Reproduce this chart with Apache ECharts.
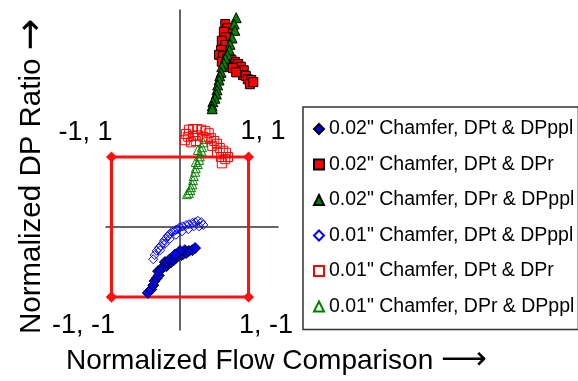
<!DOCTYPE html>
<html>
<head>
<meta charset="utf-8">
<script src="https://cdn.jsdelivr.net/npm/echarts@6/dist/echarts.min.js"></script>
<style>
  html, body { margin: 0; padding: 0; background: #fff; }
  #chart { width: 578px; height: 381px; }
</style>
</head>
<body>
<div id="chart"></div>
<script>
// Normalized flow comparison (x) vs normalized DP ratio (y), one array per test set
const seriesNames = [
  '0.02" Chamfer, DPt & DPppl',
  '0.02" Chamfer, DPt & DPr',
  '0.02" Chamfer, DPr & DPppl',
  '0.01" Chamfer, DPt & DPppl',
  '0.01" Chamfer, DPt & DPr',
  '0.01" Chamfer, DPr & DPppl'
];

const chamfer02TtoPpl = [
  [-0.47, -0.94], [-0.42, -0.89], [-0.39, -0.83], [-0.37, -0.77], [-0.34, -0.73],
  [-0.31, -0.69], [-0.32, -0.63], [-0.28, -0.61], [-0.25, -0.57], [-0.20, -0.56],
  [-0.22, -0.50], [-0.18, -0.51], [-0.13, -0.50], [-0.15, -0.46], [-0.09, -0.47],
  [-0.06, -0.44], [-0.03, -0.41], [0.02, -0.40], [0.04, -0.39], [0.09, -0.37],
  [0.07, -0.33], [0.13, -0.34], [0.18, -0.33], [0.22, -0.30], [0.00, -0.34],
  [-0.07, -0.39]
];

const chamfer02TtoR = [
  [0.66, 2.90], [0.69, 2.84], [0.64, 2.79], [0.67, 2.71], [0.61, 2.66],
  [0.66, 2.60], [0.60, 2.53], [0.57, 2.46], [0.63, 2.44], [0.69, 2.41],
  [0.61, 2.36], [0.67, 2.33], [0.75, 2.39], [0.80, 2.36], [0.85, 2.33],
  [0.89, 2.29], [0.88, 2.23], [0.93, 2.24], [0.92, 2.17], [0.96, 2.16],
  [0.99, 2.11], [1.04, 2.10], [1.02, 2.04], [1.07, 2.07], [0.72, 2.29],
  [0.77, 2.27], [0.82, 2.21]
];

const chamfer02RtoPpl = [
  [0.82, 2.99], [0.79, 2.90], [0.80, 2.81], [0.76, 2.70], [0.73, 2.61],
  [0.72, 2.53], [0.69, 2.46], [0.66, 2.41], [0.64, 2.34], [0.61, 2.29],
  [0.60, 2.21], [0.58, 2.16], [0.57, 2.10], [0.55, 2.03], [0.54, 1.96],
  [0.53, 1.90], [0.51, 1.84], [0.48, 1.79], [0.47, 1.73], [0.47, 1.69]
];

const chamfer01TtoPpl = [
  [-0.39, -0.46], [-0.37, -0.40], [-0.34, -0.34], [-0.31, -0.30], [-0.28, -0.27],
  [-0.25, -0.23], [-0.23, -0.19], [-0.20, -0.16], [-0.18, -0.13], [-0.15, -0.10],
  [-0.12, -0.07], [-0.09, -0.06], [-0.06, -0.04], [-0.03, -0.03], [0.00, 0.00],
  [0.04, 0.01], [0.09, 0.03], [0.13, 0.04], [0.18, 0.06], [0.22, 0.07],
  [0.26, 0.09], [0.31, 0.07], [0.34, 0.03], [0.28, 0.01], [0.20, 0.01],
  [0.12, -0.03], [0.03, -0.06], [-0.06, -0.11], [-0.15, -0.17], [-0.22, -0.24],
  [-0.29, -0.33]
];

const chamfer01TtoR = [
  [0.07, 1.24], [0.09, 1.33], [0.13, 1.39], [0.19, 1.40], [0.25, 1.40],
  [0.31, 1.39], [0.37, 1.37], [0.42, 1.34], [0.12, 1.29], [0.19, 1.30],
  [0.26, 1.31], [0.34, 1.29], [0.39, 1.26], [0.45, 1.27], [0.50, 1.23],
  [0.54, 1.19], [0.58, 1.13], [0.63, 1.09], [0.67, 1.06], [0.66, 0.97],
  [0.60, 1.00], [0.54, 1.07], [0.47, 1.16], [0.16, 1.21], [0.23, 1.23],
  [0.70, 1.00], [0.61, 0.91]
];

const chamfer01RtoPpl = [
  [0.34, 1.21], [0.32, 1.14], [0.31, 1.09], [0.29, 1.01], [0.28, 0.96],
  [0.26, 0.90], [0.23, 0.84], [0.22, 0.79], [0.20, 0.73], [0.19, 0.67],
  [0.18, 0.61], [0.16, 0.57], [0.15, 0.53], [0.13, 0.49], [0.10, 0.47],
  [0.23, 0.93], [0.26, 1.10]
];

// Unit square bounding the normalized region
const boundary = [[-1, -1], [-1, 1], [1, 1], [1, -1], [-1, -1]];

const axisRange = { xMin: -1.08, xMax: 1.43, yMin: -1.47, yMax: 3.1 };
const axisTitles = ['Normalized Flow Comparison', 'Normalized DP Ratio'];

const FONT = "'Liberation Sans', Arial, sans-serif";
const cornerOffsets = [[-28, 28], [-26, -24], [14.5, -25], [17.5, 28]];

const markerStyles = [
  { symbol: 'diamond', size: 11, color: '#0000ff', border: '#000000' },
  { symbol: 'rect', size: 9, color: '#ff0000', border: '#000000' },
  { symbol: 'triangle', size: 10, color: '#008000', border: '#000000' },
  { symbol: 'diamond', size: 9, color: 'rgba(0,0,0,0)', border: '#0000ff' },
  { symbol: 'rect', size: 9, color: 'rgba(0,0,0,0)', border: '#ff0000' },
  { symbol: 'triangle', size: 9, color: 'rgba(0,0,0,0)', border: '#008000' }
];

const seriesData = [
  chamfer02TtoPpl, chamfer02TtoR, chamfer02RtoPpl,
  chamfer01TtoPpl, chamfer01TtoR, chamfer01RtoPpl
];

const scatterSeries = seriesData.map((data, i) => ({
  name: seriesNames[i],
  type: 'scatter',
  data: data,
  symbol: markerStyles[i].symbol,
  symbolSize: markerStyles[i].size,
  itemStyle: {
    color: markerStyles[i].color,
    borderColor: markerStyles[i].border,
    borderWidth: 1,
    opacity: 1
  },
  emphasis: { disabled: true },
  clip: false
}));

const boundarySeries = {
  name: 'boundary',
  type: 'line',
  data: boundary.map((pt, i) => ({
    value: pt,
    label: i < 4 ? { show: true, offset: cornerOffsets[i] } : { show: false }
  })),
  symbol: 'diamond',
  symbolSize: 11,
  showAllSymbol: true,
  lineStyle: { color: '#ff1010', width: 3 },
  itemStyle: { color: '#ff1010' },
  label: {
    show: false,
    position: 'inside',
    formatter: p => p.value[0] + ', ' + p.value[1],
    fontFamily: FONT,
    fontSize: 27,
    color: '#000'
  },
  emphasis: { disabled: true },
  clip: false,
  z: 1
};

// Axis title text followed by an arrow glyph
function titleStyle(text, size, arrow, arrowSize) {
  return {
    text: text + ' {arr|' + arrow + '}',
    font: size + 'px ' + FONT,
    fill: '#000',
    align: 'left', textAlign: 'left',
    verticalAlign: 'middle', textVerticalAlign: 'middle',
    rich: {
      arr: { fontFamily: "'DejaVu Sans'", fontSize: arrowSize, fill: '#000', color: '#000' }
    }
  };
}

const chart = echarts.init(document.getElementById('chart'), null, { renderer: 'canvas' });

chart.setOption({
  animation: false,
  backgroundColor: '#ffffff',
  grid: { left: 106, right: 300, top: 10, bottom: 51, containLabel: false },
  xAxis: {
    type: 'value',
    min: axisRange.xMin,
    max: axisRange.xMax,
    axisLine: { onZero: true, lineStyle: { color: '#333', width: 1.5 } },
    axisTick: { show: false },
    axisLabel: { show: false },
    splitLine: { show: false }
  },
  yAxis: {
    type: 'value',
    min: axisRange.yMin,
    max: axisRange.yMax,
    axisLine: { onZero: true, lineStyle: { color: '#333', width: 1.5 } },
    axisTick: { show: false },
    axisLabel: { show: false },
    splitLine: { show: false }
  },
  legend: {
    data: seriesNames,
    orient: 'vertical',
    left: 303,
    top: 107,
    padding: [11, 4, 12, 10],
    itemGap: 13.5,
    itemWidth: 10,
    itemHeight: 10,
    selectedMode: false,
    borderColor: '#333',
    borderWidth: 1.5,
    textStyle: { fontFamily: FONT, fontSize: 19.5, color: '#000', lineHeight: 22 }
  },
  graphic: [
    { type: 'text', x: 66, y: 361, style: titleStyle(axisTitles[0], 28, '\u27F6', 32) },
    { type: 'text', x: 32, y: 334, rotation: Math.PI / 2, style: titleStyle(axisTitles[1], 29.5, '\u2192', 38) }
  ],
  series: [boundarySeries].concat(scatterSeries)
});
</script>
</body>
</html>
